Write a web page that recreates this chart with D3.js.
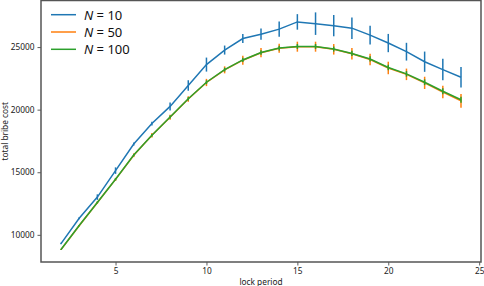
<!DOCTYPE html>
<html><head><meta charset="utf-8">
<script src="https://cdn.jsdelivr.net/npm/d3@7"></script>
<style>body{margin:0;background:#fff}svg{display:block}</style>
</head><body>
<script>
const lockPeriods = [2,3,4,5,6,7,8,9,10,11,12,13,14,15,16,17,18,19,20,21,22,23,24];
const seriesNames = ["10","50","100"];
const seriesColors = ["#1f77b4","#ff7f0e","#2ca02c"];
const costN10 = [9300,11320,13015,15130,17250,18890,20260,21930,23600,24760,25680,26030,26430,27010,26870,26710,26510,25950,25320,24630,23830,23200,22590];
const errN10 = [60,80,220,260,120,150,320,420,560,360,360,450,610,620,900,850,860,750,730,710,810,860,820];
const costN50 = [8820,10730,12580,14430,16360,17950,19400,20850,22170,23180,23950,24550,24900,25030,25030,24820,24460,24010,23330,22820,22140,21410,20710];
const errN50 = [40,60,90,120,150,180,200,220,290,280,360,370,360,400,400,420,460,460,500,460,490,490,550];
const costN100 = [8830,10740,12590,14440,16370,17960,19420,20870,22190,23200,23970,24570,24920,25050,25050,24840,24490,24050,23370,22860,22190,21470,20790];
const errN100 = [30,40,60,80,90,100,120,130,150,150,170,180,190,200,200,200,210,210,220,220,230,230,240];
const xTicks = [5,10,15,20,25];
const yTicks = [10000,15000,20000,25000];

const W=484,H=286, L=41, R=481, T=0.5, B=262;
const font = "'Noto Sans', 'DejaVu Sans', sans-serif";
const svg = d3.select("body").append("svg").attr("width",W).attr("height",H);

const series = [[costN10,errN10],[costN50,errN50],[costN100,errN100]];
const lo = d3.min(series.flatMap(([v,e])=>v.map((d,j)=>d-e[j])));
const hi = d3.max(series.flatMap(([v,e])=>v.map((d,j)=>d+e[j])));
const ypad = (hi-lo)*0.05;
const x = d3.scaleLinear().domain([0.9,25.1]).range([L,R]);
const y = d3.scaleLinear().domain([lo-ypad,hi+ypad]).range([B,T]);

const line = d3.line().x(d=>x(d[0])).y(d=>y(d[1]));
series.forEach(([vals,errs],i)=>{
  const g = svg.append("g");
  const pts = lockPeriods.map((p,j)=>[p,vals[j],errs[j]]);
  g.append("path").datum(pts).attr("d",line).attr("fill","none")
    .attr("stroke",seriesColors[i]).attr("stroke-width",1.5);
  g.selectAll("line.err").data(pts).join("line").attr("class","err")
    .attr("x1",d=>x(d[0])).attr("x2",d=>x(d[0]))
    .attr("y1",d=>y(d[1]-d[2])).attr("y2",d=>y(d[1]+d[2]))
    .attr("stroke",seriesColors[i]).attr("stroke-width",1.5);
});

const ax = svg.append("g").attr("transform",`translate(0,${B})`)
  .call(d3.axisBottom(x).tickValues(xTicks).tickSize(3.5).tickPadding(3).tickFormat(d3.format("d")));
const ay = svg.append("g").attr("transform",`translate(${L},0)`)
  .call(d3.axisLeft(y).tickValues(yTicks).tickSize(3.5).tickPadding(3).tickFormat(d3.format("d")));
[ax,ay].forEach(a=>{
  a.select(".domain").remove();
  a.selectAll("line").attr("stroke","#333").attr("stroke-width",0.8);
  a.selectAll("text").attr("font-family",font).attr("font-size",8.3).attr("fill","#222");
});
svg.append("rect").attr("x",L).attr("y",T).attr("width",R-L).attr("height",B-T)
  .attr("fill","none").attr("stroke","#555").attr("stroke-width",1.5);

svg.append("text").attr("x",(L+R)/2).attr("y",284.5).attr("text-anchor","middle")
  .attr("font-family",font).attr("font-size",8.3).attr("fill","#222").text("lock period");
svg.append("text").attr("transform",`translate(8,${(T+B)/2}) rotate(-90)`).attr("text-anchor","middle")
  .attr("font-family",font).attr("font-size",8.3).attr("fill","#222").text("total bribe cost");

const lg = svg.append("g");
seriesNames.forEach((n,i)=>{
  const yy = 14.7 + i*17.3;
  lg.append("line").attr("x1",51).attr("x2",76).attr("y1",yy).attr("y2",yy)
    .attr("stroke",seriesColors[i]).attr("stroke-width",1.5);
  const t = lg.append("text").attr("x",84).attr("y",yy+4.8)
    .attr("font-family",font).attr("font-size",13).attr("fill","#111");
  t.append("tspan").attr("font-style","italic").text("N");
  t.append("tspan").text(" = " + n);
});
</script>
</body></html>
